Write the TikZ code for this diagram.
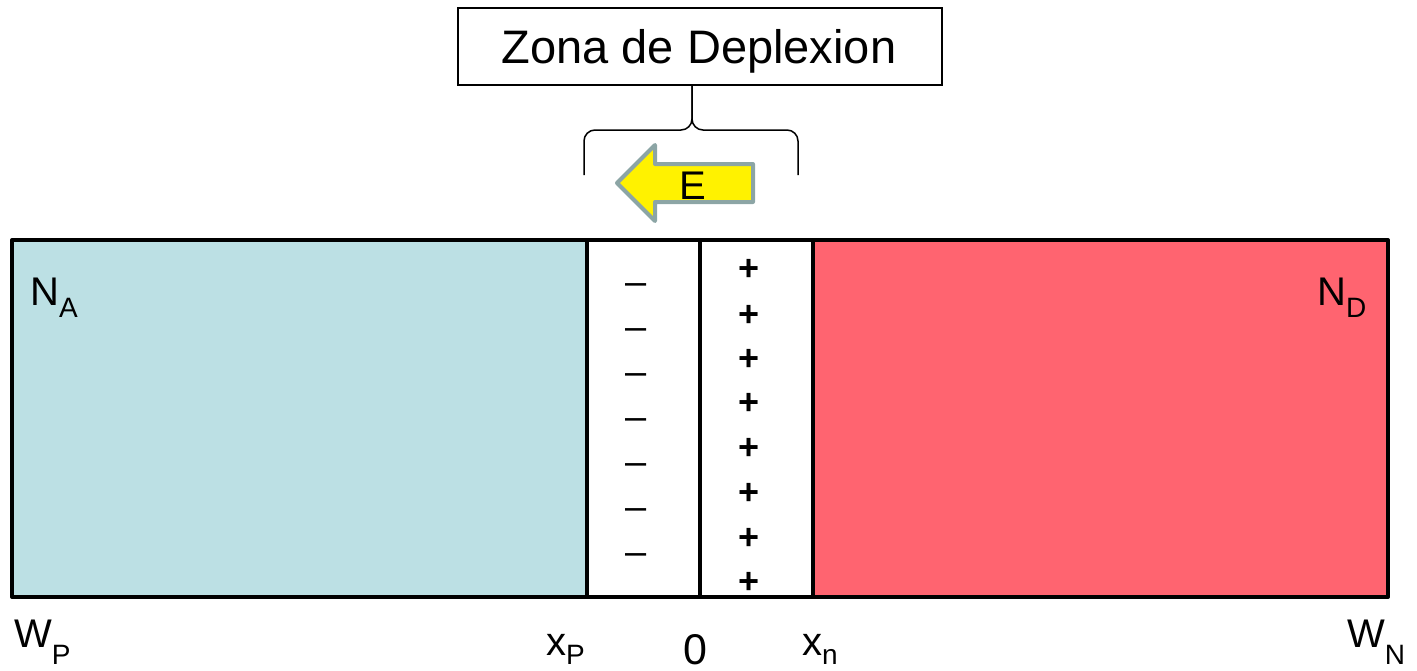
\documentclass[tikz,border=0pt]{standalone}
\usepackage{fontspec}
\setmainfont{Liberation Sans}
\definecolor{pblue}{RGB}{188,224,228}
\definecolor{nred}{RGB}{255,100,112}
\definecolor{agray}{RGB}{140,165,165}
\newcommand{\fs}[1]{\fontsize{#1}{#1}\selectfont}
\newcommand{\lbl}[3]{#1\raisebox{-#3pt}{\fs{28}#2}}
\begin{document}
\begin{tikzpicture}[x=1pt,y=-1pt,
  region/.style={line width=4pt, line join=round},
  lab/.style={font=\fs{40}, inner sep=0pt, anchor=base west},
  plussign/.style={font=\fs{36}\bfseries, inner sep=0pt, text height=25.2pt, text depth=0pt},
  minussign/.style={font=\fs{38}, inner sep=0pt, text height=19.2pt, text depth=0pt},
  bracestyle/.style={line width=1.5pt, rounded corners=11pt}
]
\useasboundingbox (0,0) rectangle (1417,670);
% regions
\draw[region, fill=pblue] (12,240) rectangle (587,597);
\draw[region, fill=nred] (813,240) rectangle (1388,597);
\draw[region, fill=white] (587,240) rectangle (700,597);
\draw[region, fill=white] (700,240) rectangle (813,597);
% title box
\node[draw, line width=1.5pt, minimum width=484pt, minimum height=77pt, inner sep=0pt] (zona) at (700,46.5) {};
\node[font=\fs{47}, inner sep=0pt, anchor=base] (zonatext) at (699,63) {Zona de Deplexion};
% brace
\coordinate (bl) at (584,175);
\coordinate (br) at (798,175);
\draw[bracestyle] (bl) -- (584,130) -- (692,130) -- (zona.south -| 692,0);
\draw[bracestyle] (br) -- (798,130) -- (692,130) -- (zona.south -| 692,0);
% E arrow
\draw[line width=4pt, line join=round, draw=agray, fill=yellow]
  (617,183) -- (655,145) -- (655,164) -- (753,164) -- (753,202) -- (655,202) -- (655,221) -- cycle;
\node[font=\fs{40}, inner sep=0pt, anchor=base] (E) at (693,199) {E};
% charges
\foreach \y [count=\i] in {285,330,375,420,465,510,555}
  \node[minussign] (m\i) at (636,\y) {\textendash};
\foreach \y [count=\i] in {268,314,358,402,447,492,537,581}
  \node[plussign] (p\i) at (749,\y) {+};
% labels
\node[lab] (NA) at (30,305) {\lbl{N}{A}{12}};
\node[lab] (ND) at (1317,305) {\lbl{N}{D}{12}};
\node[lab] (WP) at (14,647) {\lbl{W}{P}{17}};
\node[lab] (xP) at (546,655) {\lbl{x}{P}{9}};
\node[lab] (xn) at (802,655) {\lbl{x}{n}{9}};
\node[lab] (WN) at (1347,647) {\lbl{W}{N}{17}};
\node[font=\fs{43}, inner sep=0pt, anchor=base] (zero) at (695,664) {0};
\end{tikzpicture}
\end{document}
